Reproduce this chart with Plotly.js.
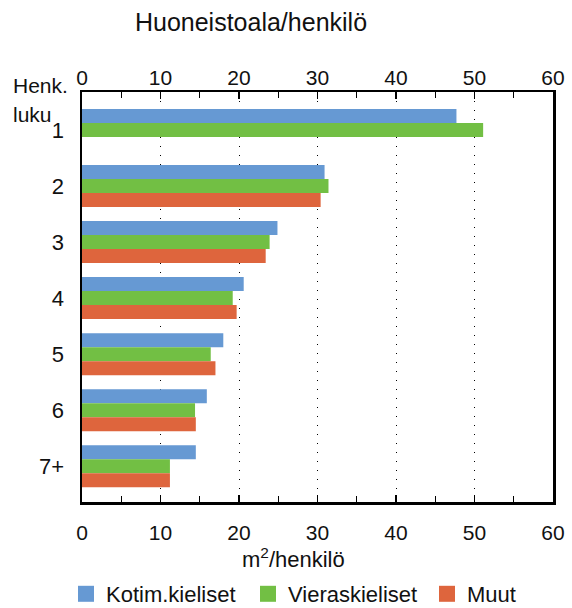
<!DOCTYPE html>
<html><head><meta charset="utf-8">
<script src="https://cdn.plot.ly/plotly-3.0.1.min.js"></script>
<style>body{margin:0;background:#fff}</style>
</head><body>
<div id="chart" style="width:572px;height:608px"></div>
<script>
const categories = ['1','2','3','4','5','6','7+'];
const seriesNames = ['Kotim.kieliset','Vieraskieliset','Muut'];
const kotim = [47.7, 30.9, 24.9, 20.6, 18.0, 15.9, 14.5];
const vieras = [51.1, 31.4, 23.9, 19.2, 16.4, 14.4, 11.2];
const muut = [null, 30.4, 23.4, 19.7, 17.0, 14.5, 11.2];
const colors = ['#6699d3','#72bf44','#de653d'];
const xTicks = [0,10,20,30,40,50,60];

const FONT = 'Liberation Sans, Arial, sans-serif';
const values = [kotim, vieras, muut];
const legendIds = ['legend','legend2','legend3'];
const traces = values.map((v,i)=>({
  type:'bar', orientation:'h', y:categories, x:v, name:seriesNames[i],
  marker:{color:colors[i]}, showlegend:false, hoverinfo:'x'
}));
// legend entries with larger square symbols
seriesNames.forEach((n,i)=>traces.push({
  type:'scatter', mode:'markers', x:[null], y:[null], name:n, legend:legendIds[i],
  marker:{symbol:'square', size:18, color:colors[i]}, showlegend:true
}));
// invisible trace to hold the top axis
traces.push({type:'scatter', mode:'markers', x:[0], y:['1'], xaxis:'x2', marker:{opacity:0}, showlegend:false, hoverinfo:'skip'});

const axisCommon = {
  range:[0,60], tickvals:xTicks, ticktext:xTicks.map(String),
  ticks:'inside', ticklen:7, tickwidth:1.2, tickcolor:'#000',
  minor:{tickvals:[5,15,25,35,45,55], ticks:'inside', ticklen:6, tickwidth:1, tickcolor:'#000'},
  tickfont:{family:FONT, size:21, color:'#111'}, zeroline:false, fixedrange:true, automargin:false
};
function legendAt(px){
  return {orientation:'h', xref:'container', x:px/572, xanchor:'left',
    yref:'container', y:1-594/608, yanchor:'middle',
    font:{family:FONT, size:22, color:'#111'}, itemwidth:30,
    bgcolor:'rgba(0,0,0,0)'};
}
const layout = {
  width:572, height:608,
  margin:{l:82, r:19, t:92, b:106},
  paper_bgcolor:'#fff', plot_bgcolor:'#fff',
  font:{family:FONT, color:'#111'},
  barmode:'group', bargap:0.25, bargroupgap:0,
  xaxis:Object.assign({}, axisCommon, {
    showgrid:true, gridcolor:'#000', gridwidth:1, griddash:'1px,8px',
    showline:true, mirror:true, linecolor:'#000', linewidth:2.5,
    ticklabelstandoff:10
  }),
  xaxis2:Object.assign({}, axisCommon, {
    overlaying:'x', side:'top', showgrid:false, showline:false,
    ticklabelstandoff:2
  }),
  yaxis:{
    type:'category', categoryarray:categories, range:[6.64,-0.68],
    showgrid:false, zeroline:false, ticks:'', showline:true, mirror:true,
    linecolor:'#000', linewidth:2.5, automargin:false,
    tickfont:{family:FONT, size:22, color:'#111'}, ticklabelstandoff:11, fixedrange:true
  },
  showlegend:true,
  legend:legendAt(66),
  legend2:legendAt(248),
  legend3:legendAt(427),
  title:{text:'Huoneistoala/henkilö', x:251/572, xanchor:'center', xref:'container',
    y:1-22/608, yref:'container', yanchor:'middle', font:{family:FONT, size:25, color:'#111'}},
  annotations:[
    {text:'m<sup>2</sup>/henkilö', xref:'paper', yref:'paper', x:(293-82)/471, y:-(558-502)/410,
      xanchor:'center', yanchor:'middle', showarrow:false, font:{family:FONT, size:22, color:'#111'}},
    {text:'Henk.', xref:'paper', yref:'paper', x:(11-82)/471, y:1+(92-85)/410,
      xanchor:'left', yanchor:'middle', showarrow:false, font:{family:FONT, size:21, color:'#111'}},
    {text:'luku', xref:'paper', yref:'paper', x:(11-82)/471, y:1-(114-92)/410,
      xanchor:'left', yanchor:'middle', showarrow:false, font:{family:FONT, size:21, color:'#111'}}
  ]
};
Plotly.newPlot('chart', traces, layout, {displayModeBar:false, staticPlot:true});
</script>
</body></html>
